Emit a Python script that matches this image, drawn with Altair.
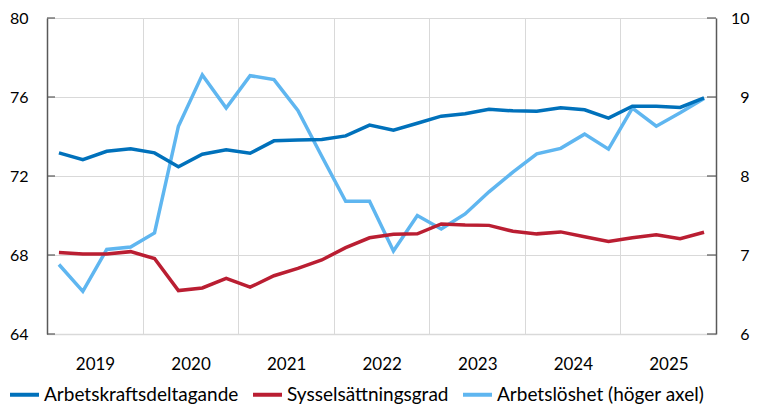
import altair as alt
import pandas as pd

# ---- data ----
years = [2019, 2020, 2021, 2022, 2023, 2024, 2025]
quarters = [1, 2, 3, 4]
series = ["Arbetskraftsdeltagande", "Sysselsättningsgrad", "Arbetslöshet (höger axel)"]
colors = ["#0071BB", "#BA1E32", "#5FB6F0"]

arbetskraft = [73.17, 72.83, 73.25, 73.38, 73.17, 72.47, 73.10, 73.33, 73.15, 73.78,
               73.82, 73.85, 74.03, 74.58, 74.32, 74.67, 75.03, 75.15, 75.38, 75.30,
               75.28, 75.45, 75.35, 74.93, 75.53, 75.53, 75.47, 75.95]
syssel = [68.13, 68.05, 68.05, 68.17, 67.82, 66.20, 66.33, 66.82, 66.37, 66.95,
          67.32, 67.75, 68.37, 68.87, 69.05, 69.07, 69.57, 69.52, 69.50, 69.20,
          69.07, 69.17, 68.92, 68.68, 68.87, 69.03, 68.83, 69.15]
arbetsloshet = [6.88, 6.54, 7.07, 7.10, 7.28, 8.63, 9.28, 8.86, 9.27, 9.22,
                8.83, 8.25, 7.68, 7.68, 7.05, 7.50, 7.33, 7.52, 7.80, 8.05,
                8.28, 8.35, 8.53, 8.34, 8.86, 8.63, 8.80, 8.98]

left_ticks = [64, 68, 72, 76, 80]
right_ticks = [6, 7, 8, 9, 10]
year_ticks = [2019, 2020, 2021, 2022, 2023, 2024, 2025, 2026]

GRID = "#D9D9D9"
DARK = "#595959"
FONT = "Lato"

# ---- build tables ----
t = [y + (q - 0.5) / 4 for y in years for q in quarters]
rows = []
for name, vals in zip(series, [arbetskraft, syssel, arbetsloshet]):
    for ti, v in zip(t, vals):
        rows.append({"t": ti, "value": v, "series": name})
df = pd.DataFrame(rows)
left_tick_df = pd.DataFrame({"value": left_ticks})
right_tick_df = pd.DataFrame({"value": right_ticks})

color_scale = alt.Scale(domain=series, range=colors)
color = alt.Color("series:N", scale=color_scale, sort=series,
                  legend=alt.Legend(title=None))

x_axis = alt.Axis(values=year_ticks, format="d",
                  labelExpr="datum.value < 2026 ? datum.label : ''",
                  labelOffset=48, labelFlush=False, labelOverlap=False,
                  grid=True, gridColor=GRID, gridWidth=1, ticks=False,
                  domainColor=GRID, domainWidth=1.5, labelFontSize=17,
                  labelPadding=22, labelBaseline="top", title=None)
x_scale = alt.Scale(domain=[2019, 2026], nice=False, zero=False)


def x_enc():
    return alt.X("t:Q", scale=x_scale, axis=x_axis)


left_y_axis = alt.Axis(values=left_ticks, grid=True, gridColor=GRID, gridWidth=1,
                       domainColor=DARK, domainWidth=1.5, ticks=False,
                       labelPadding=19, title=None, orient="left")
left_scale = alt.Scale(domain=[64, 80], nice=False, zero=False)

right_y_axis = alt.Axis(values=right_ticks, grid=False, domainColor=DARK,
                        domainWidth=1.5, ticks=False, labelAlign="right",
                        labelPadding=33, title=None, orient="right")
right_scale = alt.Scale(domain=[6, 10], nice=False, zero=False)

base = alt.Chart(df)

right_line = base.transform_filter(alt.datum.series == series[2]).mark_line(
    strokeWidth=3.5).encode(
    x=x_enc(),
    y=alt.Y("value:Q", scale=right_scale, axis=right_y_axis),
    color=color)
right_ticks_layer = alt.Chart(right_tick_df).mark_rule(color=DARK, strokeWidth=1.2).encode(
    y=alt.Y("value:Q", scale=right_scale, axis=right_y_axis),
    x=alt.value(660), x2=alt.value(669))
right_layer = alt.layer(right_line, right_ticks_layer)

red_line = base.transform_filter(alt.datum.series == series[1]).mark_line(
    strokeWidth=3.5).encode(
    x=x_enc(),
    y=alt.Y("value:Q", scale=left_scale, axis=left_y_axis),
    color=color)
blue_line = base.transform_filter(alt.datum.series == series[0]).mark_line(
    strokeWidth=3.5).encode(
    x=x_enc(),
    y=alt.Y("value:Q", scale=left_scale, axis=left_y_axis),
    color=color)
left_ticks_layer = alt.Chart(left_tick_df).mark_rule(color=DARK, strokeWidth=1.2).encode(
    y=alt.Y("value:Q", scale=left_scale, axis=left_y_axis),
    x=alt.value(0), x2=alt.value(8))
left_layer = alt.layer(red_line, blue_line, left_ticks_layer)

chart = alt.layer(right_layer, left_layer).resolve_scale(
    y="independent"
).properties(
    width=669, height=316,
    autosize=alt.AutoSizeParams(type="none"),
    padding={"left": 39, "top": 10, "right": 34, "bottom": 72},
).configure(font=FONT).configure_view(stroke=None).configure_axis(
    labelFont=FONT, labelFontSize=16, labelColor="#000000"
).configure_legend(
    orient="none", legendX=-39, legendY=360, direction="horizontal",
    symbolType="stroke", symbolStrokeWidth=4, symbolSize=840,
    labelFont=FONT, labelFontSize=19, labelColor="#000000",
    labelOffset=3, columnPadding=6, padding=0, labelLimit=400
)

chart.save("out.html", embed_options={"renderer": "svg", "actions": False})
